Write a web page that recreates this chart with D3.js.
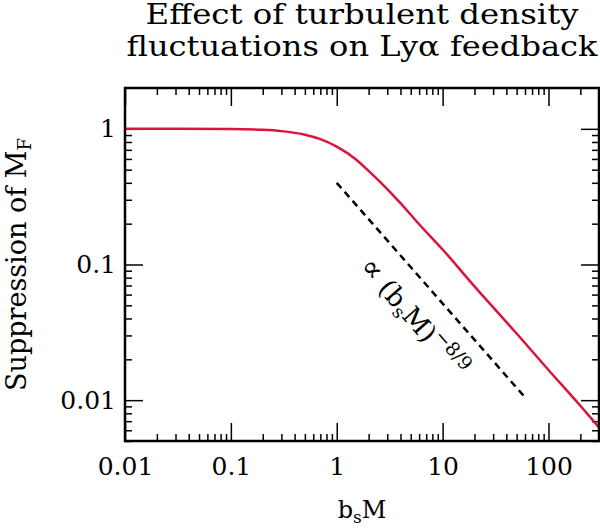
<!DOCTYPE html>
<html>
<head>
<meta charset="utf-8">
<script src="https://cdn.jsdelivr.net/npm/d3@7"></script>
<style>
  body { margin: 0; background: #fff; }
  svg { display: block; font-family: "DejaVu Serif", serif; }
  .frame { fill: none; stroke: #000; stroke-width: 2.5; }
  .axis path { display: none; }
  .axis line { stroke: #000; stroke-width: 1.5; }
  .axis text { font-family: "DejaVu Serif", serif; font-size: 25px; fill: #000; }
</style>
</head>
<body>
<svg class="chart" width="600" height="528"></svg>
<script>
// curve
const bsM = [0.01, 0.03, 0.1, 0.2, 0.3, 0.5, 0.7, 1, 1.5, 2, 3, 4, 6, 10, 20, 50, 100, 200, 300]
const suppression = [1.0, 1.0, 0.996, 0.983, 0.962, 0.905, 0.84, 0.74, 0.6, 0.49, 0.36, 0.283, 0.198, 0.129, 0.069, 0.031, 0.0167, 0.0091, 0.0063]

// power law guide, slope -8/9
const guideX = [1, 60]
const guideY = [0.4, 0.0105]

const xMajor = [0.01, 0.1, 1, 10, 100]
const yMajor = [0.01, 0.1, 1]

const svg = d3.select("svg.chart")
const mLeft = 125, mRight = 599, mTop = 88, mBottom = 441

const x = d3.scaleLog().domain([0.01, 300]).range([mLeft, mRight])
const y = d3.scaleLog().domain([0.005, 2]).range([mBottom, mTop])

const label = d3.format("~g")
const xMinor = x.ticks().filter(d => xMajor.indexOf(d) < 0)
const yMinor = y.ticks().filter(d => yMajor.indexOf(d) < 0 && d < 2)

// ticks on all four sides, pointing inward
svg.append("g").attr("class", "axis")
    .attr("transform", "translate(0," + mBottom + ")")
    .call(d3.axisBottom(x).tickValues(xMajor).tickSize(-18).tickPadding(16).tickFormat(label))
svg.append("g").attr("class", "axis")
    .attr("transform", "translate(0," + mBottom + ")")
    .call(d3.axisBottom(x).tickValues(xMinor).tickSize(-7).tickFormat(""))
svg.append("g").attr("class", "axis")
    .attr("transform", "translate(0," + mTop + ")")
    .call(d3.axisTop(x).tickValues(xMajor).tickSize(-18).tickFormat(""))
svg.append("g").attr("class", "axis")
    .attr("transform", "translate(0," + mTop + ")")
    .call(d3.axisTop(x).tickValues(xMinor).tickSize(-7).tickFormat(""))

svg.append("g").attr("class", "axis")
    .attr("transform", "translate(" + mLeft + ",0)")
    .call(d3.axisLeft(y).tickValues(yMajor).tickSize(-18).tickPadding(9).tickFormat(label))
svg.append("g").attr("class", "axis")
    .attr("transform", "translate(" + mLeft + ",0)")
    .call(d3.axisLeft(y).tickValues(yMinor).tickSize(-7).tickFormat(""))
svg.append("g").attr("class", "axis")
    .attr("transform", "translate(" + mRight + ",0)")
    .call(d3.axisRight(y).tickValues(yMajor).tickSize(-18).tickFormat(""))
svg.append("g").attr("class", "axis")
    .attr("transform", "translate(" + mRight + ",0)")
    .call(d3.axisRight(y).tickValues(yMinor).tickSize(-7).tickFormat(""))

const line = d3.line()
    .x(d => x(d[0]))
    .y(d => y(d[1]))
    .curve(d3.curveMonotoneX)

svg.append("path")
    .datum(d3.zip(bsM, suppression))
    .attr("fill", "none")
    .attr("stroke", "#dc143c")
    .attr("stroke-width", 2.5)
    .attr("d", line)

svg.append("path")
    .datum(d3.zip(guideX, guideY))
    .attr("fill", "none")
    .attr("stroke", "#000")
    .attr("stroke-width", 2.5)
    .attr("stroke-dasharray", "7,5")
    .attr("d", line)

svg.append("rect")
    .attr("class", "frame")
    .attr("x", mLeft)
    .attr("y", mTop)
    .attr("width", mRight - mLeft)
    .attr("height", mBottom - mTop)

// annotation along the guide
const gx0 = x(guideX[0]), gy0 = y(guideY[0])
const gx1 = x(guideX[1]), gy1 = y(guideY[1])
const ang = Math.atan2(gy1 - gy0, gx1 - gx0)
const along = 78, off = 40
const ax = gx0 + along * Math.cos(ang) - off * Math.sin(ang)
const ay = gy0 + along * Math.sin(ang) + off * Math.cos(ang)

const note = svg.append("text")
    .attr("transform", "translate(" + ax + "," + ay + ") rotate(" + (ang * 180 / Math.PI) + ")")
    .attr("font-size", 26)
note.append("tspan").attr("font-size", 30).text("\u221D")
note.append("tspan").text(" (b")
note.append("tspan").attr("font-size", 18).attr("dy", 5).text("s")
note.append("tspan").attr("dy", -5).text("M)")
note.append("tspan").attr("font-size", 19).attr("dy", -11).text("\u22128/9")

// title
const title = svg.append("text")
    .attr("text-anchor", "middle")
    .attr("font-size", 27)
title.append("tspan").attr("x", (mLeft + mRight) / 2).attr("y", 24)
    .attr("textLength", 433).attr("lengthAdjust", "spacingAndGlyphs")
    .text("Effect of turbulent density")
title.append("tspan").attr("x", (mLeft + mRight) / 2).attr("y", 56)
    .attr("textLength", 471).attr("lengthAdjust", "spacingAndGlyphs")
    .text("fluctuations on Ly\u03B1 feedback")

// axis titles
const xt = svg.append("text")
    .attr("x", (mLeft + mRight) / 2)
    .attr("y", 518)
    .attr("text-anchor", "middle")
    .attr("font-size", 24)
xt.append("tspan").text("b")
xt.append("tspan").attr("font-size", 17).attr("dy", 5).text("s")
xt.append("tspan").attr("dy", -5).text("M")

const yt = svg.append("text")
    .attr("transform", "translate(26," + (mTop + mBottom) / 2 + ") rotate(-90)")
    .attr("text-anchor", "middle")
    .attr("font-size", 27)
yt.append("tspan").text("Suppression of M")
yt.append("tspan").attr("font-size", 18).attr("dy", 5).text("F")
</script>
</body>
</html>
